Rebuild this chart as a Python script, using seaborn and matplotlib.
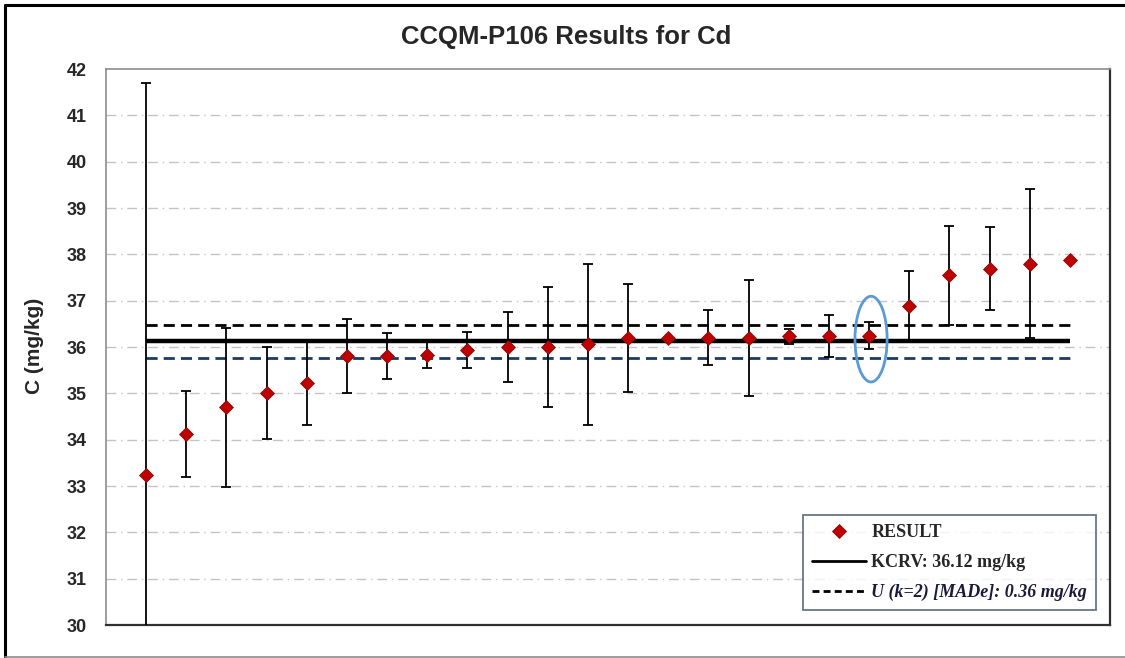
import numpy as np
import pandas as pd
import matplotlib
matplotlib.use("Agg")
import matplotlib.pyplot as plt
from matplotlib.lines import Line2D
from matplotlib.patches import Ellipse
import seaborn as sns

# ---- data ----
lab_index = list(range(1, 25))
results = [33.24, 34.12, 34.70, 35.01, 35.22, 35.80, 35.80, 35.82, 35.93, 36.00,
           36.00, 36.06, 36.19, 36.20, 36.20, 36.20, 36.23, 36.23, 36.24, 36.89,
           37.55, 37.69, 37.80, 37.88]
expanded_u = [8.46, 0.92, 1.72, 1.00, 0.90, 0.80, 0.50, 0.28, 0.39, 0.75,
              1.30, 1.74, 1.16, np.nan, 0.59, 1.25, 0.16, 0.45, 0.29, 0.74,
              1.07, 0.90, 1.61, np.nan]
kcrv = 36.12
u_kcrv = 0.36
highlight_lab = 19
y_ticks = list(range(30, 43))
title = "CCQM-P106 Results for Cd"
y_label = "C (mg/kg)"
legend_labels = ["RESULT", "KCRV: 36.12 mg/kg", "U (k=2) [MADe]: 0.36 mg/kg"]

df = pd.DataFrame({"lab": lab_index, "result": results, "U": expanded_u})

sns.set_theme(style="white")
plt.rcParams["font.family"] = ["Liberation Sans", "DejaVu Sans"]

W, H = 1125, 658
fig = plt.figure(figsize=(W / 100, H / 100), dpi=100)
ax = fig.add_axes([106 / W, 1 - 625 / H, (1110 - 106) / W, (625 - 69) / H])

# grid lines
for yt in y_ticks[1:-1]:
    ax.axhline(yt, color="#C4C4C4", lw=1.0, ls=(0, (7, 3.5, 1, 3.5)), zorder=0)

# reference lines
x0, x1 = lab_index[0], lab_index[-1]
ax.plot([x0, x1], [kcrv, kcrv], color="black", lw=3.2, zorder=2, solid_capstyle="butt")
ax.plot([x0, x1], [kcrv + u_kcrv, kcrv + u_kcrv], color="black", lw=2.0,
        ls=(0, (4, 2.2)), zorder=2)
ax.plot([x0, x1], [kcrv - u_kcrv, kcrv - u_kcrv], color="#1F3864", lw=2.0,
        ls=(0, (4, 2.2)), zorder=2)

# error bars
ax.errorbar(df["lab"], df["result"], yerr=df["U"], fmt="none", ecolor="black",
            elinewidth=1.3, capsize=3.5, capthick=1.3, zorder=3)

# points
sns.scatterplot(data=df, x="lab", y="result", marker="D", s=50, color="#C00000",
                edgecolor="#7F1010", linewidth=0.6, zorder=4, ax=ax, legend=False)

# highlight ellipse
hl = df[df["lab"] == highlight_lab].iloc[0]
ax.add_patch(Ellipse((hl["lab"] + 0.05, kcrv + 0.05), width=0.8, height=1.85,
                     fill=False, edgecolor="#5B9BD5", lw=2.0, zorder=5))

ax.set_xlim(0, 25)
ax.set_ylim(30, 42)
ax.set_yticks(y_ticks)
ax.set_yticklabels([str(t) for t in y_ticks], fontsize=13, fontweight="bold")
ax.set_xticks([])
ax.tick_params(axis="y", length=0, pad=14)
ax.set_xlabel("")
ax.set_ylabel("")
for side in ["left", "top"]:
    ax.spines[side].set_color("#8C8C8C")
    ax.spines[side].set_linewidth(1.2)
for side in ["right", "bottom"]:
    ax.spines[side].set_color("#303030")
    ax.spines[side].set_linewidth(1.6)

fig.text(35 / W, 1 - 346 / H, y_label, rotation=90, ha="center", va="center",
         fontsize=15, fontweight="bold")
fig.text(566 / W, 1 - 37 / H, title, ha="center", va="center", fontsize=18.5,
         fontweight="bold")

# legend
handles = [
    Line2D([], [], ls="none", marker="D", markersize=7, markerfacecolor="#C00000",
           markeredgecolor="#7F1010", markeredgewidth=0.6),
    Line2D([], [], color="black", lw=2.0),
    Line2D([], [], color="black", lw=2.0, ls=(0, (2.5, 1.5))),
]
leg = ax.legend(handles, legend_labels, loc="lower right",
                bbox_to_anchor=(0.986, 0.027), frameon=True, fancybox=False,
                handlelength=3.0, handletextpad=0.3, labelspacing=0.7,
                borderpad=0.5, borderaxespad=0,
                prop={"family": ["Liberation Serif", "DejaVu Serif"],
                      "weight": "bold", "size": 13})
leg.get_frame().set_edgecolor("#44546A")
leg.get_frame().set_linewidth(1.3)
leg.get_texts()[2].set_fontstyle("italic")
leg.get_texts()[2].set_color("#1A1A3A")

# outer chart frame
fig.add_artist(Line2D([5 / W, 5 / W], [0, 1 - 5 / H], color="black", lw=2.2,
                      transform=fig.transFigure))
fig.add_artist(Line2D([5 / W, 1], [1 - 5 / H, 1 - 5 / H], color="black", lw=2.2,
                      transform=fig.transFigure))
fig.add_artist(Line2D([5 / W, 1], [1 - 657 / H, 1 - 657 / H], color="#8C8C8C", lw=1.2,
                      transform=fig.transFigure))

fig.savefig("out.png", dpi=100)
